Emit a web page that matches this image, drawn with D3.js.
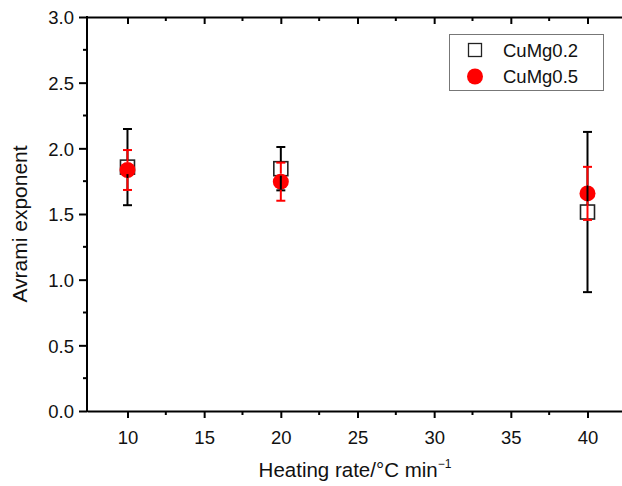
<!DOCTYPE html>
<html><head><meta charset="utf-8">
<script src="https://cdn.jsdelivr.net/npm/d3@7"></script>
<style>body{margin:0;background:#fff}svg{display:block;font-family:"Liberation Sans",Arial,sans-serif}</style>
</head><body><svg id="c" width="622" height="486"></svg>
<script>
const heatingRates = [10, 20, 40];
const cuMg02 = [1.857, 1.845, 1.515];
const cuMg02Err = [0.29, 0.165, 0.61];
const cuMg05 = [1.835, 1.746, 1.657];
const cuMg05Err = [0.152, 0.145, 0.202];
const xTicks = [10, 15, 20, 25, 30, 35, 40];
const yTicks = [0, 0.5, 1.0, 1.5, 2.0, 2.5, 3.0];
const seriesNames = ["CuMg0.2", "CuMg0.5"];

const svg = d3.select("#c");
const L = 87, R = 622, T = 17, B = 411;
const x = d3.scaleLinear().domain([7.36, 42.25]).range([L, R]);
const y = d3.scaleLinear().domain([0, 3]).range([B, T]);

// bottom axis
const bx = d3.axisBottom(x).tickValues(xTicks).tickFormat(d3.format("d")).tickSize(7).tickPadding(13).tickSizeOuter(0);
const gb = svg.append("g").attr("transform", `translate(0,${B})`).call(bx);
const minorX = d3.range(12.5, 42, 5);
gb.selectAll(".mn").data(minorX).enter().append("line").attr("x1", d => x(d)).attr("x2", d => x(d)).attr("y1", 0).attr("y2", 4).attr("stroke", "#000").attr("stroke-width", 2);
// top axis (ticks inward)
const tx = d3.axisTop(x).tickValues(xTicks).tickFormat("").tickSize(-7).tickSizeOuter(0);
const gt = svg.append("g").attr("transform", `translate(0,${T})`).call(tx);
gt.selectAll(".mn").data(minorX).enter().append("line").attr("x1", d => x(d)).attr("x2", d => x(d)).attr("y1", 0).attr("y2", 4).attr("stroke", "#000").attr("stroke-width", 2);
// left axis
const ly = d3.axisLeft(y).tickValues(yTicks).tickFormat(d3.format(".1f")).tickSize(8).tickPadding(5).tickSizeOuter(0);
const gl = svg.append("g").attr("transform", `translate(${L},0)`).call(ly);
const minorY = d3.range(0.25, 3, 0.5);
gl.selectAll(".mn").data(minorY).enter().append("line").attr("x1", 0).attr("x2", -4).attr("y1", d => y(d)).attr("y2", d => y(d)).attr("stroke", "#000").attr("stroke-width", 2);

svg.selectAll(".domain").attr("stroke", "#000").attr("stroke-width", 2);
svg.selectAll(".tick line").attr("stroke", "#000").attr("stroke-width", 2);
svg.selectAll(".tick text").attr("font-size", 18.5).attr("fill", "#111").attr("font-family", "Liberation Sans, Arial, sans-serif");
gl.selectAll(".tick text").attr("dy", "0.36em");
gl.select(".domain").attr("d", `M0,${B+1}V${T-1}`);

// axis titles
const xt = svg.append("text").attr("x", 355).attr("y", 477).attr("text-anchor", "middle").attr("font-size", 20.5).attr("fill", "#111");
xt.append("tspan").text("Heating rate/°C min");
xt.append("tspan").attr("dy", -9).attr("font-size", 12).text("−1");
svg.append("text").attr("transform", `translate(27,${(T+B)/2+10}) rotate(-90)`).attr("text-anchor", "middle").attr("font-size", 21).attr("fill", "#111").text("Avrami exponent");

const sq = 14, r = 8, cap = 4.5;
const d02 = heatingRates.map((h, i) => ({x: h, v: cuMg02[i], e: cuMg02Err[i]}));
const d05 = heatingRates.map((h, i) => ({x: h, v: cuMg05[i], e: cuMg05Err[i]}));

// markers
svg.selectAll(".sq").data(d02).enter().append("rect")
  .attr("x", d => x(d.x) - sq/2).attr("y", d => y(d.v) - sq/2).attr("width", sq).attr("height", sq)
  .attr("fill", "#fff").attr("stroke", "#222").attr("stroke-width", 1.6);
svg.selectAll(".ci").data(d05).enter().append("circle")
  .attr("cx", d => x(d.x)).attr("cy", d => y(d.v)).attr("r", r).attr("fill", "#ff0000");

function errBars(data, color, gap) {
  const g = svg.append("g").attr("stroke", color).attr("stroke-width", 2);
  data.forEach(d => {
    const cx = x(d.x), cy = y(d.v), top = y(d.v + d.e), bot = y(d.v - d.e);
    g.append("line").attr("x1", cx).attr("x2", cx).attr("y1", cy - gap).attr("y2", top);
    g.append("line").attr("x1", cx).attr("x2", cx).attr("y1", cy + gap).attr("y2", bot);
    g.append("line").attr("x1", cx - cap).attr("x2", cx + cap).attr("y1", top).attr("y2", top);
    g.append("line").attr("x1", cx - cap).attr("x2", cx + cap).attr("y1", bot).attr("y2", bot);
  });
}
errBars(d02, "#000", sq/2);
errBars(d05, "#ff0000", r);

// legend
const lg = svg.append("g");
lg.append("rect").attr("x", 449.5).attr("y", 34.5).attr("width", 154).attr("height", 56).attr("fill", "#fff").attr("stroke", "#777").attr("stroke-width", 1);
lg.append("rect").attr("x", 475 - 6.5).attr("y", 50 - 6.5).attr("width", 13).attr("height", 13).attr("fill", "#fff").attr("stroke", "#222").attr("stroke-width", 1.3);
lg.append("circle").attr("cx", 475).attr("cy", 76.5).attr("r", 8).attr("fill", "#ff0000");
lg.selectAll(".lt").data(seriesNames).enter().append("text")
  .attr("x", 503).attr("y", (d, i) => 50 + i * 26.5 + 6.5).attr("font-size", 18.5).attr("fill", "#111").text(d => d);
</script></body></html>
